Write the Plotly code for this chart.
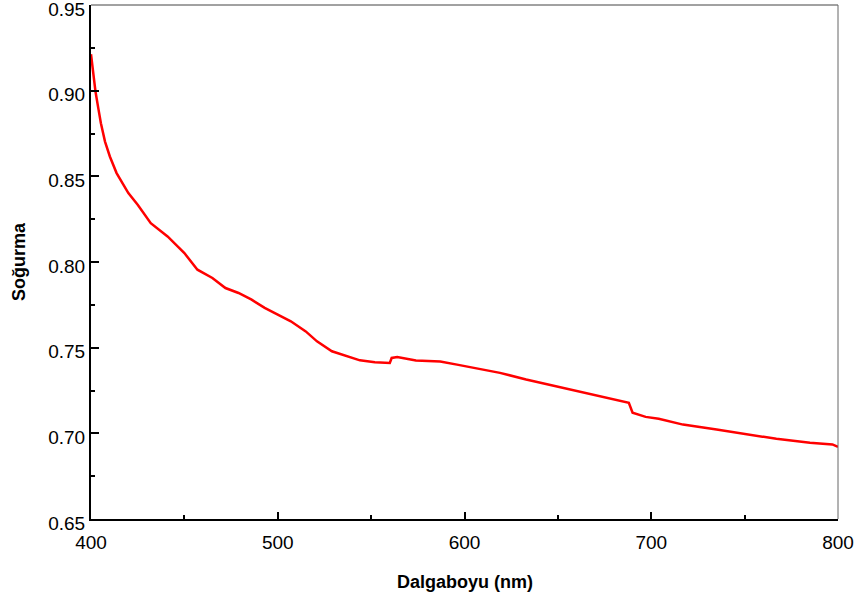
import plotly.graph_objects as go

# Absorbance spectrum (wavelength in nm, absorbance)
wavelength = [400, 401.2, 402.4, 403.9, 405.3, 407.5, 410.1, 413.7, 416.4, 420,
              425, 432, 441, 450, 457, 465, 472, 479, 486, 493, 500, 507, 515,
              521, 529, 536, 544, 552, 560, 561, 564, 574, 587, 596, 605, 619,
              633, 647, 662, 676, 688, 690, 697, 704, 717, 735, 753, 767, 785,
              797, 800]
absorbance = [0.9213, 0.9092, 0.8995, 0.8898, 0.8810, 0.8703, 0.8616, 0.8519,
              0.8470, 0.8402, 0.8334, 0.8227, 0.8149, 0.8052, 0.7955, 0.7907,
              0.7848, 0.7819, 0.7780, 0.7732, 0.7693, 0.7654, 0.7595, 0.7537,
              0.7479, 0.7454, 0.7426, 0.7415, 0.7411, 0.7440, 0.7446, 0.7425,
              0.7419, 0.7401, 0.7382, 0.7353, 0.7314, 0.7279, 0.7246, 0.7207,
              0.7178, 0.7120, 0.7096, 0.7085, 0.7051, 0.7022, 0.6993, 0.6968,
              0.6945, 0.6935, 0.6921]

x_ticks = [400, 500, 600, 700, 800]
y_ticks = [0.65, 0.70, 0.75, 0.80, 0.85, 0.90, 0.95]
y_tick_text = ["0.65", "0.70", "0.75", "0.80", "0.85", "0.90", "0.95"]

FONT = "Liberation Sans, Arial, sans-serif"

fig = go.Figure()
fig.add_trace(go.Scatter(
    x=wavelength, y=absorbance, mode="lines",
    line=dict(color="#ff0000", width=2.5),
    showlegend=False, hoverinfo="x+y",
))

fig.update_layout(
    width=859, height=599,
    margin=dict(l=91, r=21, t=5, b=80, autoexpand=False),
    paper_bgcolor="white", plot_bgcolor="white",
    font=dict(family=FONT, size=19, color="black"),
    xaxis=dict(
        range=[400, 800], tickvals=x_ticks,
        showgrid=False, zeroline=False, automargin=False,
        showline=True, linecolor="black", linewidth=2,
        ticks="inside", ticklen=7, tickwidth=1.5, tickcolor="black",
        minor=dict(ticks="inside", ticklen=4, tickwidth=1.5,
                   tickcolor="black", dtick=50),
        tickfont=dict(size=19),
        ticklabelstandoff=5,
        ticklabeloverflow="allow",
    ),
    yaxis=dict(
        range=[0.65, 0.95], tickvals=y_ticks, ticktext=y_tick_text,
        showgrid=False, zeroline=False, automargin=False,
        showline=True, linecolor="black", linewidth=2,
        ticks="inside", ticklen=8, tickwidth=1.5, tickcolor="black",
        minor=dict(ticks="inside", ticklen=4, tickwidth=1.5,
                   tickcolor="black", dtick=0.025),
        tickfont=dict(size=19),
        ticklabelshift=4,
        ticklabeloverflow="allow",
    ),
    shapes=[
        # thin frame on top and right
        dict(type="line", xref="paper", yref="paper", x0=0, x1=1, y0=1, y1=1,
             line=dict(color="#444444", width=1)),
        dict(type="line", xref="paper", yref="paper", x0=1, x1=1, y0=0, y1=1,
             line=dict(color="#666666", width=1)),
    ],
    annotations=[
        dict(text="<b>Dalgaboyu (nm)</b>", xref="paper", yref="paper",
             x=0.5, y=0, yshift=-63, showarrow=False,
             xanchor="center", yanchor="middle", font=dict(size=18)),
        dict(text="<b>Soğurma</b>", xref="paper", yref="paper",
             x=0, xshift=-72, y=0.5, showarrow=False, textangle=-90,
             xanchor="center", yanchor="middle", font=dict(size=18)),
    ],
)

fig.write_html("out.html")
